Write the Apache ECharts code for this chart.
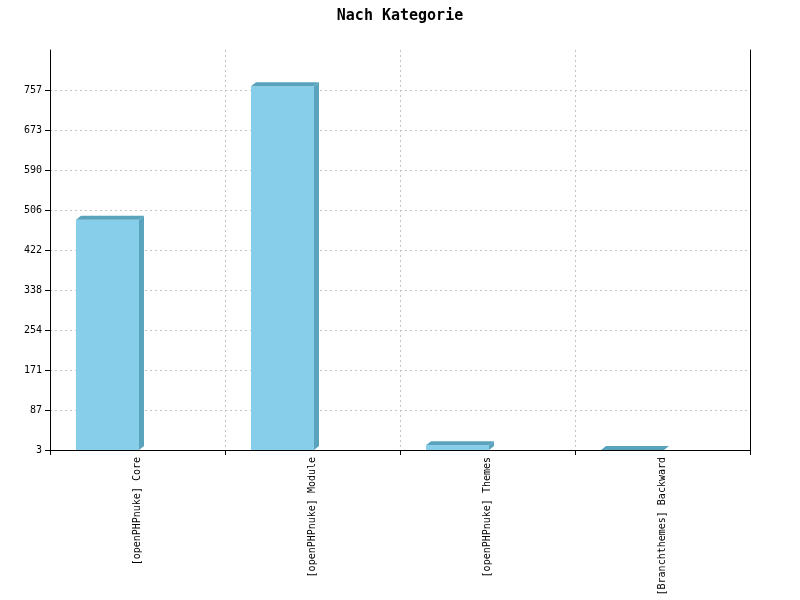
<!DOCTYPE html>
<html>
<head>
<meta charset="utf-8">
<script src="https://cdn.jsdelivr.net/npm/echarts@6/dist/echarts.min.js"></script>
<style>html,body{margin:0;padding:0;background:#fff}#c{width:800px;height:600px}</style>
</head>
<body>
<div id="c"></div>
<script>
const titleText = "Nach Kategorie";
const categories = ["[openPHPnuke] Core", "[openPHPnuke] Module", "[openPHPnuke] Themes", "[Branchthemes] Backward"];
const values = [485, 765, 13, 3];
const yTickLabels = ["3", "87", "171", "254", "338", "422", "506", "590", "673", "757"];
const yMin = 3, yMax = 840.8, yStep = 83.78;

const chart = echarts.init(document.getElementById('c'), null, {renderer: 'canvas'});
const mono = "DejaVu Sans Mono";
chart.setOption({
  animation: false,
  backgroundColor: '#ffffff',
  title: {
    text: titleText, left: 'center', top: 4,
    textStyle: {fontFamily: mono, fontSize: 15, fontWeight: 'bold', color: '#000'}
  },
  grid: {left: 50, right: 50, top: 50, bottom: 150, containLabel: false},
  xAxis: {
    type: 'category', data: categories, boundaryGap: true,
    axisLine: {lineStyle: {color: '#000', width: 1}},
    axisTick: {show: true, alignWithLabel: false, length: 5, lineStyle: {color: '#000'}},
    axisLabel: {rotate: 90, margin: 7, fontFamily: mono, fontSize: 10, color: '#000', interval: 0},
    splitLine: {show: true, lineStyle: {color: '#c4c4c4', type: [2, 3]}}
  },
  yAxis: [{
    type: 'value', min: yMin, max: yMax, interval: yStep,
    axisLine: {show: true, lineStyle: {color: '#000'}},
    axisTick: {show: true, length: 5, lineStyle: {color: '#000'}},
    axisLabel: {
      fontFamily: mono, fontSize: 10, color: '#000', margin: 8, showMaxLabel: false,
      formatter: function (v, i) { return yTickLabels[i] !== undefined ? yTickLabels[i] : ''; }
    },
    splitLine: {show: true, showMaxLine: false, lineStyle: {color: '#c4c4c4', type: [2, 3]}}
  }, {
    type: 'value', position: 'right', min: yMin, max: yMax, interval: yStep,
    axisLine: {show: true, lineStyle: {color: '#000'}},
    axisTick: {show: false}, axisLabel: {show: false}, splitLine: {show: false}
  }],
  series: [{
    type: 'custom',
    data: values.map((v, i) => [i, v]),
    encode: {x: 0, y: 1},
    renderItem: function (params, api) {
      const top = api.coord([api.value(0), api.value(1)]);
      const base = api.coord([api.value(0), yMin]);
      const c = top[0];
      const x0 = c - 61.5, x1 = c + 1.5, d = 5, h = 4;
      const ty = top[1], by = base[1];
      const children = [];
      if (by - ty > 0) {
        children.push({type: 'rect', shape: {x: x0, y: ty, width: x1 - x0, height: by - ty},
          style: {fill: '#87CEEB'}});
        children.push({type: 'polygon', shape: {points: [[x1, ty], [x1 + d, ty - h], [x1 + d, by - h], [x1, by]]},
          style: {fill: '#5AA3BD'}});
      }
      children.push({type: 'polygon', shape: {points: [[x0, ty], [x0 + d, ty - h], [x1 + d, ty - h], [x1, ty]]},
        style: {fill: '#5AA3BD'}});
      return {type: 'group', children: children};
    }
  }]
});
</script>
</body>
</html>
